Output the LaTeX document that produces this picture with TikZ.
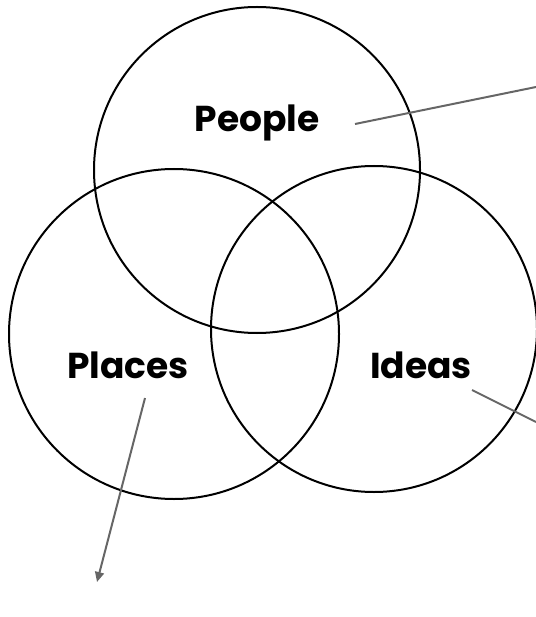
\documentclass[tikz,border=0pt]{standalone}
\usepackage{fontspec}
\setmainfont{Poppins}[BoldFont={* Bold}]
\usetikzlibrary{arrows.meta}
\begin{document}
\begin{tikzpicture}[x=1pt,y=-1pt,
  ring/.style={draw=black,line width=2pt},
  lbl/.style={font=\fontsize{36}{40}\selectfont\bfseries,inner sep=0pt},
  pointer/.style={draw=black!60,line width=2pt}]
\useasboundingbox (0,0) rectangle (535,617);
\draw[ring] (257,170) circle (163);
\draw[ring] (174,334) circle (165);
\draw[ring] (374,329) circle (163);
\node[lbl] (people) at (257,123) {People};
\node[lbl] (places) at (128,365) {Places};
\node[lbl] (ideas) at (421,365) {Ideas};
\coordinate (p1) at (355,124);
\coordinate (p2) at (536,87);
\coordinate (i1) at (472,390);
\coordinate (i2) at (536,422);
\coordinate (l1) at (145,398);
\coordinate (l2) at (97,582);
\draw[pointer] (p1) -- (p2);
\draw[pointer] (i1) -- (i2);
\draw[pointer,-{Triangle[length=10pt,width=9pt]}] (l1) -- (l2);
\end{tikzpicture}
\end{document}
